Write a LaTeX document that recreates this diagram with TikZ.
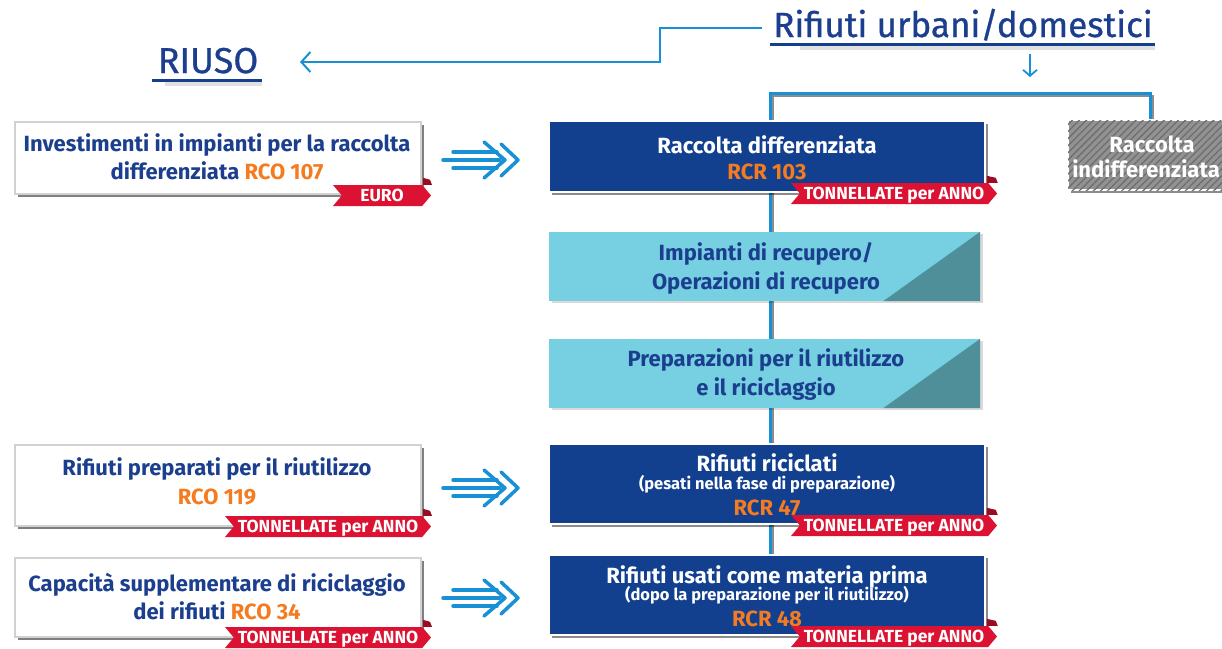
\documentclass[tikz,border=0pt]{standalone}
\usepackage{fontspec}
\setmainfont{Fira Sans}
\newfontfamily\titlefont{Fira Sans}[FakeBold=0.8]
\usetikzlibrary{arrows.meta,shadows,patterns.meta,shapes.symbols}
\definecolor{navy}{HTML}{12408F}
\definecolor{txtblue}{HTML}{1B3F8E}
\definecolor{orng}{HTML}{F47B20}
\definecolor{tagred}{HTML}{DC1233}
\definecolor{foldred}{HTML}{9A0C22}
\definecolor{cyanc}{HTML}{76D0E1}
\definecolor{tealc}{HTML}{4F8F99}
\definecolor{lineblue}{HTML}{1790D6}
\definecolor{hatchbg}{HTML}{929292}
\definecolor{hatchln}{HTML}{6E6E6E}
\tikzset{
  navybox/.style={draw=white, line width=1.5pt, fill=navy, inner sep=0pt,
    drop shadow={shadow xshift=3pt, shadow yshift=-3pt, fill=black, opacity=.45}},
  cyanbox/.style={fill=cyanc, inner sep=0pt,
    drop shadow={shadow xshift=3pt, shadow yshift=-2pt, fill=black, opacity=.15}},
  whitebox/.style={fill=white, draw=black!18, line width=2pt, inner sep=0pt,
    drop shadow={shadow xshift=3pt, shadow yshift=-3pt, fill=black, opacity=.5}},
  greybox/.style={fill=hatchbg, draw=white, line width=1.5pt, inner sep=0pt,
    postaction={pattern={Lines[angle=45,distance=5pt,line width=1.3pt]}, pattern color=hatchln},
    drop shadow={shadow xshift=3pt, shadow yshift=-3pt, fill=black, opacity=.45}},
  tagbox/.style={shape=signal, signal from=west, signal pointer angle=100, fill=tagred,
    inner sep=0pt, minimum height=21pt, text=white, text height=12pt, text depth=0pt,
    font=\bfseries\fontsize{17.5}{17.5}\selectfont},
  fold/.style={fill=foldred},
  maintxt/.style={anchor=base, inner sep=0pt, font=\bfseries\fontsize{22}{22}\selectfont},
  subtxt/.style={anchor=base, inner sep=0pt, font=\bfseries\fontsize{16.5}{16.5}\selectfont},
  wtxt/.style={maintxt, text=white},
  btxt/.style={maintxt, text=txtblue},
  otxt/.style={maintxt, text=orng},
  link/.style={draw=lineblue, line width=2pt},
  shade line/.style={draw=black!45, line width=2.5pt},
  blue line/.style={draw=lineblue, line width=3pt},
  arrowline/.style={draw=lineblue, line width=3.5pt, line cap=round, line join=round},
  tri/.pic={
    \draw[arrowline] (-27,-8) -- (17,-8);
    \draw[arrowline] (-37,0) -- (20,0);
    \draw[arrowline] (-27,8) -- (17,8);
    \draw[arrowline] (4,-18) -- (25,0) -- (4,18);
    \draw[arrowline] (21,-16) -- (38,0) -- (21,16);
  }
}
\begin{document}
\begin{tikzpicture}[x=1pt,y=-1pt]
\clip (0,0) rectangle (1222,648);
\fill[white] (0,0) rectangle (1222,648);

% titles
\node[anchor=base, inner sep=0pt, text=txtblue, font=\titlefont\fontsize{35}{35}\selectfont] (title) at (963,37) {Rifiuti urbani/domestici};
\fill[black, opacity=.12] (800,45) rectangle (1155,50);
\draw[navy, line width=3pt] (770,44) -- (1155,44);
\node[anchor=base, inner sep=0pt, text=txtblue, font=\titlefont\fontsize{36}{36}\selectfont] (riuso) at (208,73) {RIUSO};
\fill[black, opacity=.12] (165,81) rectangle (262,86);
\draw[navy, line width=3pt] (152,80) -- (262,80);

% connectors from the title
\coordinate (t1) at (762,28);
\coordinate (t2) at (660,28);
\coordinate (t3) at (660,62);
\coordinate (riusoend) at (300,62);
\draw[link, -{Straight Barb[length=9pt,width=20pt]}] (t1) -- (t2) -- (t3) -- (riusoend);
\coordinate (d1) at (1030,54);
\coordinate (d2) at (1030,77);
\draw[link, line width=1.8pt, -{Straight Barb[length=6pt,width=14pt]}] (d1) -- (d2);

% bracket and main vertical line
\coordinate (b0) at (770,560);
\coordinate (b1) at (770,93);
\coordinate (b2) at (1150,93);
\coordinate (b3) at (1150,122);
\draw[shade line] ([shift={(3,3)}]b0) -- ([shift={(3,3)}]b1) -- ([shift={(3,3)}]b2) -- ([shift={(3,3)}]b3);
\draw[blue line] (b0) -- (b1) -- (b2) -- (b3);

% right column boxes
\node[navybox, minimum width=436pt, minimum height=71pt] (rd) at (767,156.5) {};
\node[wtxt] (rdt1) at (767,153.5) {Raccolta differenziata};
\node[otxt] (rdt2) at (767,179) {RCR 103};

\node[greybox, minimum width=170pt, minimum height=70pt] (ind) at (1153,155) {};
\node[wtxt] (indt1) at (1152,152.5) {Raccolta};
\node[wtxt] (indt2) at (1146,177.5) {indifferenziata};

\node[cyanbox, minimum width=431pt, minimum height=69pt] (imp) at (764.5,266.5) {};
\fill[tealc] (imp.south east) -- (imp.north east) -- ([xshift=-97pt]imp.south east) -- cycle;
\node[btxt] (impt1) at (766,260) {Impianti di recupero/};
\node[btxt] (impt2) at (766,289) {Operazioni di recupero};

\node[cyanbox, minimum width=431pt, minimum height=69pt] (prep) at (764.5,373.5) {};
\fill[tealc] (prep.south east) -- (prep.north east) -- ([xshift=-97pt]prep.south east) -- cycle;
\node[btxt] (prept1) at (766,366) {Preparazioni per il riutilizzo};
\node[btxt] (prept2) at (766,395) {e il riciclaggio};

\node[navybox, minimum width=436pt, minimum height=80pt] (ric) at (767,484) {};
\node[wtxt] (rict1) at (767,471) {Rifiuti riciclati};
\node[subtxt, text=white] (rict2) at (767,489) {(pesati nella fase di preparazione)};
\node[otxt] (rict3) at (767,515) {RCR 47};

\node[navybox, minimum width=436pt, minimum height=80pt] (mat) at (767,595) {};
\node[wtxt] (matt1) at (767,583) {Rifiuti usati come materia prima};
\node[subtxt, text=white] (matt2) at (767,600) {(dopo la preparazione per il riutilizzo)};
\node[otxt] (matt3) at (767,626) {RCR 48};

% left column boxes
\node[whitebox, minimum width=406pt, minimum height=72pt] (inv) at (218,158) {};
\node[btxt] (invt1) at (217,151) {Investimenti in impianti per la raccolta};
\node[btxt] (invt2) at (217,179) {differenziata \textcolor{orng}{RCO 107}};

\node[whitebox, minimum width=406pt, minimum height=81pt] (rp) at (218,485.5) {};
\node[btxt] (rpt1) at (217,475) {Rifiuti preparati per il riutilizzo};
\node[otxt] (rpt2) at (217,504) {RCO 119};

\node[whitebox, minimum width=406pt, minimum height=79pt] (cap) at (218,597.5) {};
\node[btxt] (capt1) at (217,591) {Capacità supplementare di riciclaggio};
\node[btxt] (capt2) at (217,619) {dei rifiuti \textcolor{orng}{RCO 34}};

% tags
\node[tagbox, minimum width=98pt] (teuro) at (382,195.5) {EURO};
\fill[fold] (inv.east |- teuro.north) ++(1,0) -- ++(0,-7) -- ++(7,2) -- ++(2,5) -- cycle;
\node[tagbox, minimum width=206pt] (trd) at (894,193.5) {TONNELLATE per ANNO};
\fill[fold] (rd.east |- trd.north) ++(1,0) -- ++(0,-7) -- ++(9,2) -- ++(2,5) -- cycle;
\node[tagbox, minimum width=206pt] (trp) at (328,526.5) {TONNELLATE per ANNO};
\fill[fold] (rp.east |- trp.north) ++(1,0) -- ++(0,-7) -- ++(7,2) -- ++(2,5) -- cycle;
\node[tagbox, minimum width=206pt] (tric) at (894,525.5) {TONNELLATE per ANNO};
\fill[fold] (ric.east |- tric.north) ++(1,0) -- ++(0,-7) -- ++(9,2) -- ++(2,5) -- cycle;
\node[tagbox, minimum width=206pt] (tcap) at (328,637.5) {TONNELLATE per ANNO};
\fill[fold] (cap.east |- tcap.north) ++(1,0) -- ++(0,-7) -- ++(7,2) -- ++(2,5) -- cycle;
\node[tagbox, minimum width=206pt] (tmat) at (894,636.5) {TONNELLATE per ANNO};
\fill[fold] (mat.east |- tmat.north) ++(1,0) -- ++(0,-7) -- ++(9,2) -- ++(2,5) -- cycle;

% triple arrows
\pic (a1) at (480,160) {tri};
\pic (a2) at (480,488) {tri};
\pic (a3) at (480,598) {tri};
\end{tikzpicture}
\end{document}
